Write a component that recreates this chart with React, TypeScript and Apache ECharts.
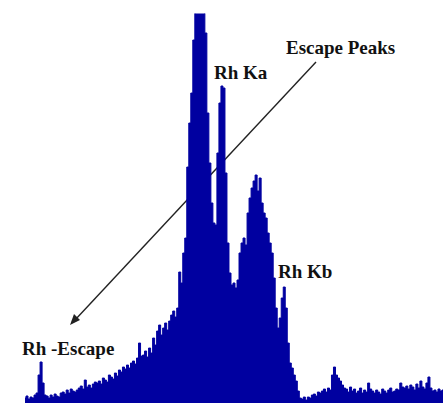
import React, { useEffect, useRef } from "react";
import * as echarts from "echarts";

// Spectrum counts, one per channel (main peak clipped at top)
const counts: number[] = [
  5, 7, 4, 6, 5, 8,
  10, 28, 41, 20, 8,
  7, 5, 8, 6, 9, 7, 6, 10,
  11, 9, 13, 10, 14, 12, 11, 13,
  15, 17, 14, 23, 16, 18, 15, 19, 21,
  20, 22, 19, 25, 23, 21, 28, 26, 24, 30,
  27, 33, 31, 36, 34, 38, 35, 40,
  42, 39, 45, 60, 47,
  48, 52, 46, 55, 50, 65, 58,
  72, 78, 68, 75, 80, 73, 82,
  88, 92, 86, 95,
  131, 120, 150, 165,
  236, 280, 310, 363,
  420, 420, 420, 420, 420,
  370, 290, 240, 200, 180, 178,
  250, 300, 317, 315, 230, 160, 130, 118,
  120, 115, 123,
  150, 160, 165, 158, 190, 205, 215, 222, 228, 212, 225, 200, 190, 185, 170, 160,
  150, 125, 95, 75, 85, 105, 116, 95, 60, 40, 35, 28, 22, 12, 5,
  4, 6, 3, 6, 5,
  8, 9, 7, 11, 10,
  12, 14, 11, 15, 13,
  28, 36, 28, 25, 22, 18, 15,
  14, 11, 16, 12, 14, 10,
  12, 15, 10, 13, 11,
  20, 14,
  12, 10, 13, 11, 9, 14, 12, 10, 13, 15, 11, 12, 14, 13,
  20, 16,
  15, 17, 14, 18, 16, 13, 19, 15, 22, 16, 14, 20, 26, 15,
  12, 13, 11, 14, 12, 13,
];

const channels: string[] = counts.map((_, i) => String(i));

const labels = {
  escape: "Escape Peaks",
  ka: "Rh Ka",
  kb: "Rh Kb",
  rhEscape: "Rh -Escape",
};

const YMAX = 389;

export default function App() {
  const ref = useRef<HTMLDivElement>(null);
  useEffect(() => {
    document.body.style.margin = "0";
    const chart = echarts.init(ref.current!, null, { renderer: "svg" });
    const font = "'Liberation Serif', 'Times New Roman', serif";
    const txt = (text: string, x: number, y: number) => ({
      type: "text",
      x,
      y,
      style: {
        text,
        fill: "#111",
        font: `bold 19px ${font}`,
        textVerticalAlign: "middle",
      },
    });
    chart.setOption({
      animation: false,
      backgroundColor: "#fff",
      grid: { left: 25, right: 0, top: 14, bottom: 2 },
      xAxis: {
        type: "category",
        data: channels,
        show: false,
        boundaryGap: false,
      },
      yAxis: { type: "value", min: 0, max: YMAX, show: false },
      series: [
        {
          type: "line",
          data: counts,
          step: "middle",
          symbol: "none",
          clip: true,
          lineStyle: { color: "#0000A0", width: 1 },
          areaStyle: { color: "#0000A0", opacity: 1 },
        },
      ],
      graphic: [
        {
          type: "line",
          shape: { x1: 316, y1: 62, x2: 75, y2: 320 },
          style: { stroke: "#222", lineWidth: 1.4 },
        },
        {
          type: "polygon",
          shape: {
            points: [
              [70, 325],
              [80, 320],
              [74, 314],
            ],
          },
          style: { fill: "#222" },
        },
        txt(labels.escape, 286, 47),
        txt(labels.ka, 214, 72),
        txt(labels.kb, 278, 271),
        txt(labels.rhEscape, 22, 348),
      ],
    });
    return () => chart.dispose();
  }, []);
  return (
    <div
      ref={ref}
      style={{ position: "absolute", left: 0, top: 0, width: 443, height: 405 }}
    />
  );
}
